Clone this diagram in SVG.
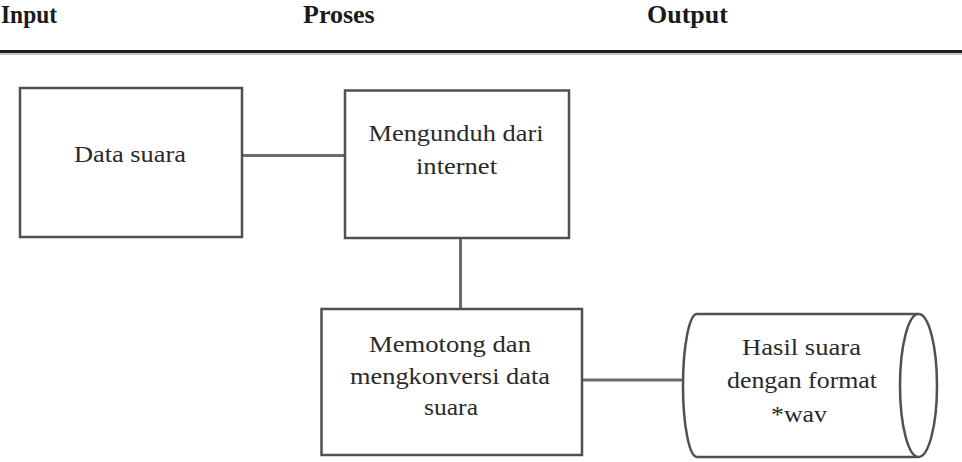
<svg xmlns="http://www.w3.org/2000/svg" width="962" height="462" viewBox="0 0 962 462">
<style>
.hdr{font-family:"Liberation Serif","Times New Roman",serif;font-weight:bold;font-size:26px;fill:#1a1a1a}
.lbl{font-family:"Liberation Serif","Times New Roman",serif;font-size:23px;fill:#2a2a2a;text-anchor:middle}
.box{fill:#fff;stroke:#505050;stroke-width:2.5}
.con{stroke:#6a6a6a;stroke-width:3;fill:none}
</style>
<rect width="962" height="462" fill="#fff"/>
<g id="header">
<text class="hdr" x="1" y="23" textLength="56" lengthAdjust="spacingAndGlyphs">Input</text>
<text class="hdr" x="303" y="23">Proses</text>
<text class="hdr" x="647" y="23">Output</text>
<line x1="0" y1="51.5" x2="962" y2="51.5" stroke="#1e1e1e" stroke-width="3"/>
<line x1="0" y1="54" x2="962" y2="54" stroke="#b0b0b0" stroke-width="1.5"/>
</g>
<g id="connectors">
<line class="con" x1="242" y1="155.5" x2="345" y2="155.5" stroke="#8a8a8a"/>
<line class="con" x1="460.5" y1="238" x2="460.5" y2="309"/>
<line class="con" x1="582" y1="380" x2="683" y2="380"/>
</g>
<g id="node-data-suara">
<rect class="box" x="20" y="88" width="222" height="149"/>
<text class="lbl" x="130" y="162" textLength="112" lengthAdjust="spacingAndGlyphs">Data suara</text>
</g>
<g id="node-mengunduh">
<rect class="box" x="345" y="90.5" width="224" height="147.5"/>
<text class="lbl" x="456" y="141" textLength="175" lengthAdjust="spacingAndGlyphs">Mengunduh dari</text>
<text class="lbl" x="456.5" y="174" textLength="81" lengthAdjust="spacingAndGlyphs">internet</text>
</g>
<g id="node-memotong">
<rect class="box" x="321.5" y="309" width="260.5" height="146"/>
<text class="lbl" x="450" y="352" textLength="162" lengthAdjust="spacingAndGlyphs">Memotong dan</text>
<text class="lbl" x="450" y="384" textLength="200" lengthAdjust="spacingAndGlyphs">mengkonversi data</text>
<text class="lbl" x="451" y="415" textLength="54" lengthAdjust="spacingAndGlyphs">suara</text>
</g>
<g id="node-hasil">
<path class="box" d="M918 314 L697 314 A14 71.5 0 0 0 697 457 L918 457"/>
<ellipse class="box" cx="918.5" cy="385.5" rx="18.5" ry="71.5"/>
<text class="lbl" x="801.5" y="355" textLength="119" lengthAdjust="spacingAndGlyphs">Hasil suara</text>
<text class="lbl" x="802" y="388" textLength="150" lengthAdjust="spacingAndGlyphs">dengan format</text>
<text class="lbl" x="799" y="422" textLength="56" lengthAdjust="spacingAndGlyphs">*wav</text>
</g>
</svg>
